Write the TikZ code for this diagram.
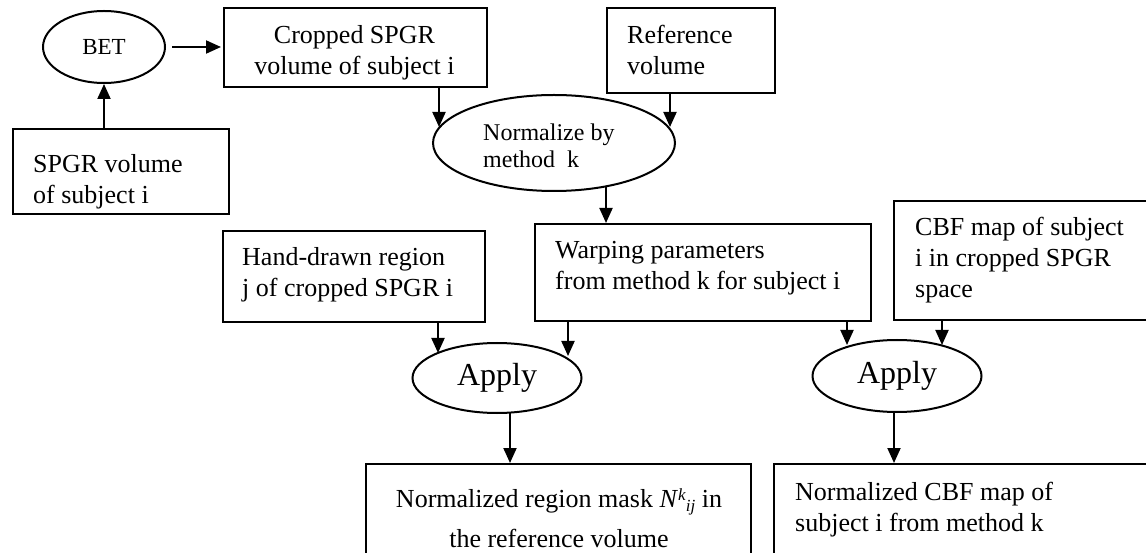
\documentclass[tikz,border=0pt]{standalone}
\usepackage{fontspec}
\setmainfont{Liberation Serif}
\usetikzlibrary{arrows.meta,shapes.geometric,calc}
\newcommand\fsMain{\fontsize{26}{31}\selectfont}
\newcommand\fsNorm{\fontsize{24}{27}\selectfont}
\newcommand\fsBet{\fontsize{23}{27}\selectfont}
\newcommand\fsApply{\fontsize{32}{38}\selectfont}
\newcommand\fsScr{\fontsize{17}{17}\selectfont}
\begin{document}
\begin{tikzpicture}[x=1pt,y=-1pt,
  box/.style={draw, line width=2pt, rectangle, anchor=north west, inner sep=0pt},
  ell/.style={draw, line width=2pt, ellipse, inner sep=0pt},
  txt/.style={inner sep=0pt, font=\fsMain, align=left, anchor=north west},
  arr/.style={line width=2pt, -{Triangle[length=15pt,width=13pt]}}]
\useasboundingbox (0,0) rectangle (1146,553);
\clip (0,0) rectangle (1146,553);
\fill[white] (0,0) rectangle (1146,553);

% shapes
\node[ell, minimum width=122pt, minimum height=72pt, font=\fsBet] (bet) at (104,47) {BET};
\node[box, minimum width=263pt, minimum height=79pt] (crop) at (223,7) {};
\node[box, minimum width=216pt, minimum height=85pt] (spgr) at (12,128) {};
\node[box, minimum width=168pt, minimum height=85pt] (ref) at (606,7) {};
\node[ell, minimum width=242pt, minimum height=96pt] (norm) at (554,143) {};
\node[box, minimum width=336pt, minimum height=97pt] (warp) at (534,223) {};
\node[box, minimum width=262pt, minimum height=91pt] (hand) at (222,230) {};
\node[box, minimum width=300pt, minimum height=119pt] (cbf) at (893,200) {};
\node[ell, minimum width=169pt, minimum height=70pt, font=\fsApply] (app1) at (497,378) {Apply};
\node[ell, minimum width=169pt, minimum height=72pt, font=\fsApply] (app2) at (897,376) {Apply};
\node[box, minimum width=385pt, minimum height=130pt] (res1) at (365,463) {};
\node[box, minimum width=400pt, minimum height=130pt] (res2) at (773,463) {};

% texts
\node[txt, anchor=north, align=center] (cropT) at (354.5,21.3) {\strut Cropped SPGR\\volume of subject i};
\node[txt] (spgrT) at (33,150.3) {\strut SPGR volume\\of subject i};
\node[txt] (refT) at (627,21.3) {\strut Reference\\volume};
\node[txt, font=\fsNorm] (normT) at (483,121.1) {\strut Normalize by\\method~ k};
\node[txt] (warpT) at (555,236.3) {\strut Warping parameters\\from method k for subject i};
\node[txt] (handT) at (242,243.3) {\strut Hand-drawn region\\j of cropped SPGR i};
\node[txt] (cbfT) at (915,213.3) {\strut CBF map of subject\\i in cropped SPGR\\space};
\node[txt, anchor=north, align=center] (res1T) at (559,485.3) {\strut Normalized region mask \textit{N}\raisebox{7pt}{\fsScr\textit{k}}\raisebox{-4pt}{\fsScr\textit{ij}} in\\[9pt]the reference volume};
\node[txt] (res2T) at (795,478.3) {\strut Normalized CBF map of\\subject i from method k};

% connectors
\draw[arr] ($(bet.east)+(6,0)$) -- ($(crop.west |- bet.east)+(-2,0)$);
\draw[arr] (bet.south |- spgr.north) -- (bet.south);
\draw[arr] ($(crop.south west)+(216,0)$) -- ($(norm.center)+(-115,-16)$);
\draw[arr] ($(ref.south west)+(64,0)$) -- ($(norm.center)+(116,-16)$);
\draw[arr] ($(norm.center)+(52,43)$) -- ($(warp.north west)+(72,0)$);
\draw[arr] ($(hand.south west)+(216,0)$) -- ($(app1.center)+(-59,-25)$);
\draw[arr] ($(warp.south west)+(34,0)$) -- ($(app1.center)+(71,-22)$);
\draw[arr] ($(warp.south west)+(313,0)$) -- ($(app2.center)+(-50,-31)$);
\draw[arr] ($(cbf.south west)+(49,0)$) -- ($(app2.center)+(45,-31)$);
\draw[arr] ($(app1.center)+(13,35)$) -- ($(res1.north west)+(145,0)$);
\draw[arr] ($(app2.center)+(-3,36)$) -- ($(res2.north west)+(121,0)$);
\end{tikzpicture}
\end{document}
